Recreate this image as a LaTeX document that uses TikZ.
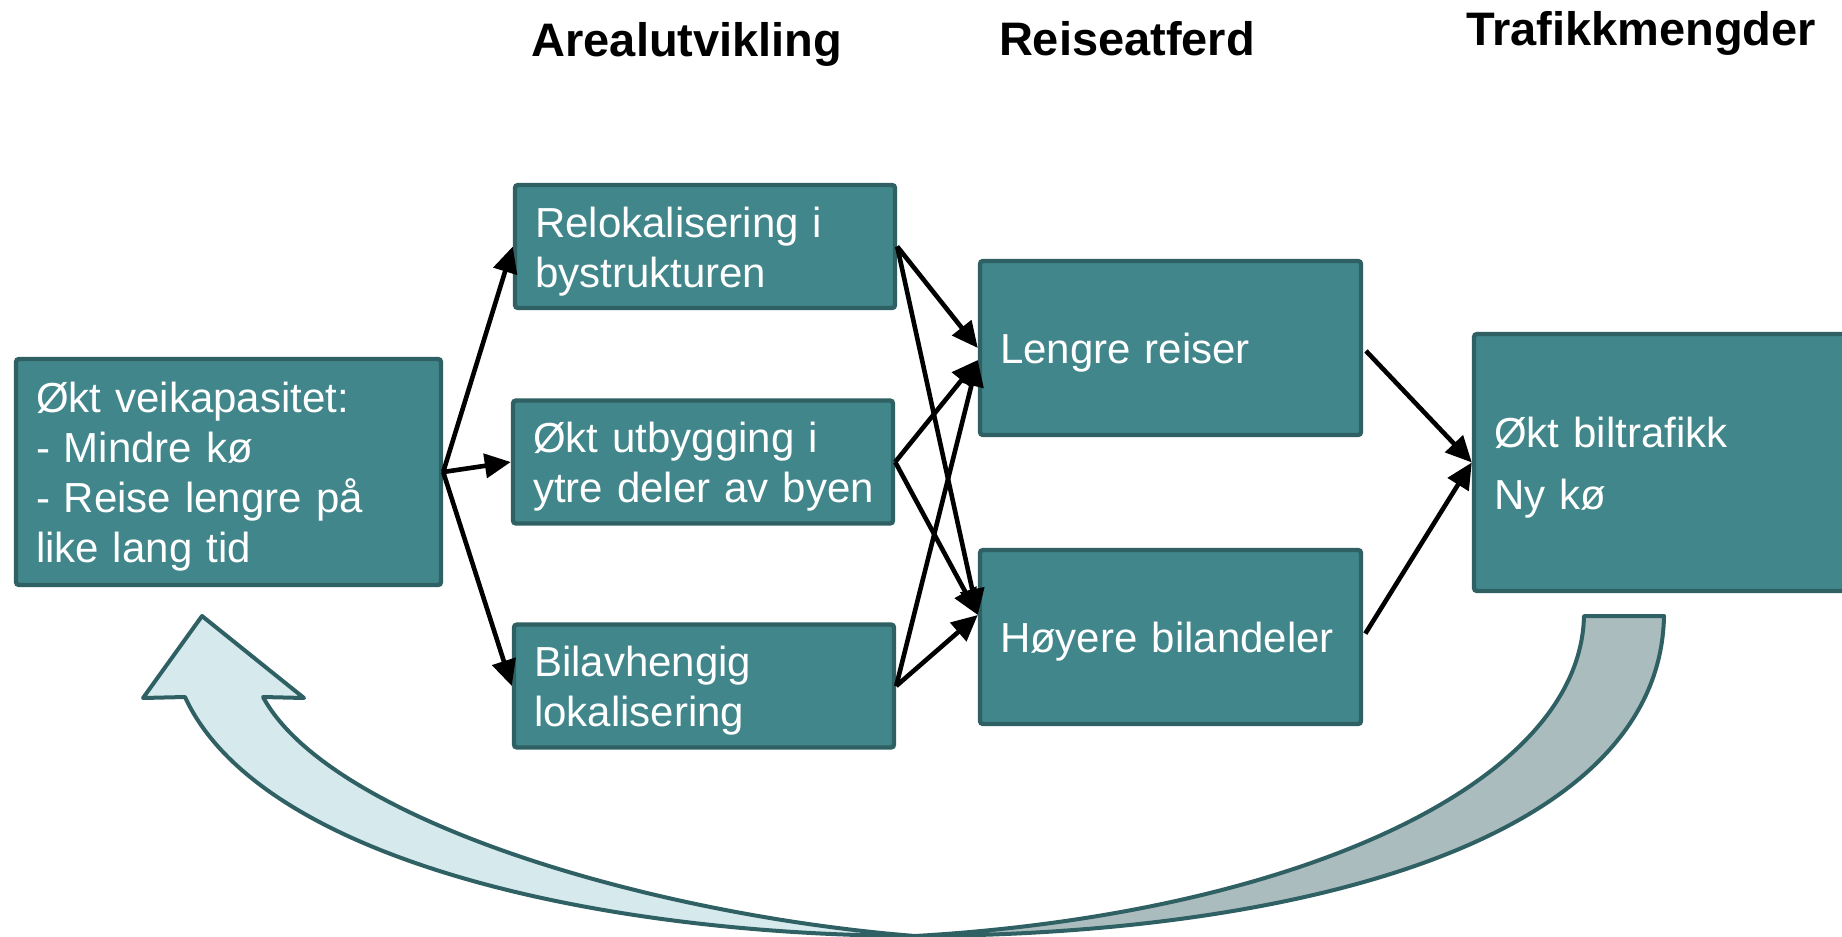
\documentclass[tikz,border=0pt]{standalone}
\usepackage{fontspec}
\setmainfont{Liberation Sans}
\usepackage{tikz}
\usetikzlibrary{arrows.meta}
\definecolor{boxfill}{RGB}{65,134,139}
\definecolor{boxline}{RGB}{47,96,100}
\definecolor{loopfill}{RGB}{214,234,237}
\definecolor{backfill}{RGB}{170,188,190}

\begin{document}
\begin{tikzpicture}[x=0.5pt,y=-0.5pt,
box/.style={draw=boxline,fill=boxfill,line width=2.2pt,rounded corners=1.5pt,text=white,align=left,inner xsep=10pt,inner ysep=0pt,text height=20pt,font=\fontsize{21}{25}\selectfont},
startbox/.style={box,text width=192.5pt,minimum height=113pt},
landbox/.style={box,text width=170pt,minimum height=61.5pt},
travelbox/.style={box,text width=170.5pt,minimum height=87pt},
trafficbox/.style={box,text width=183pt,minimum height=128.5pt},
head/.style={font=\bfseries\fontsize{23.5}{28}\selectfont,anchor=base},
arr/.style={-{Triangle[length=13pt,width=12pt]},line width=2.3pt},
band/.style={draw=boxline,line width=2pt,line join=round}]
\useasboundingbox (0,0) rectangle (1842,937);
\node[head] (h1) at (687,56) {Arealutvikling};
\node[head] (h2) at (1127,55) {Reiseatferd};
\node[head] (h3) at (1641,46) {Trafikkmengder};
\draw[band,fill=backfill] (1584,616) -- (1664,616) .. controls (1660,840) and (1300,935) .. (915,936) .. controls (1280,915) and (1580,790) .. (1584,616) -- cycle;
\draw[band,fill=loopfill] (202,616) -- (304,698) -- (263,697) .. controls (330,820) and (650,915) .. (915,936) .. controls (600,935) and (260,860) .. (185,697) -- (143,698) -- cycle;
\node[startbox] (a) at (228.5,472) {Økt veikapasitet:\\- Mindre kø\\- Reise lengre på\\like lang tid};
\node[landbox] (b1) at (705,246.5) {Relokalisering i\\bystrukturen};
\node[landbox] (b2) at (703,462) {Økt utbygging i\\\mbox{ytre deler av byen}};
\node[landbox] (b3) at (704,686) {Bilavhengig\\lokalisering};
\node[travelbox] (c1) at (1170.5,348) {Lengre reiser};
\node[travelbox] (c2) at (1170.5,637) {Høyere bilandeler};
\node[trafficbox] (d) at (1677,462.5) {Økt biltrafikk\\[6pt]Ny kø};
\draw[arr](a.east)--(b1.west); \draw[arr](a.east)--(b2.west); \draw[arr](a.east)--(b3.west);
\draw[arr](b1.east)--(c1.west);
\foreach \s in {b2,b3} \draw[arr](\s.east)--([yshift=-6pt]c1.west);
\foreach \s in {b1,b2,b3} \draw[arr](\s.east)--([yshift=11pt]c2.west);
\draw[arr,shorten <=2pt](c1.east)--(d.west); \draw[arr,shorten <=2pt](c2.east)--(d.west);
\end{tikzpicture}
\end{document}
